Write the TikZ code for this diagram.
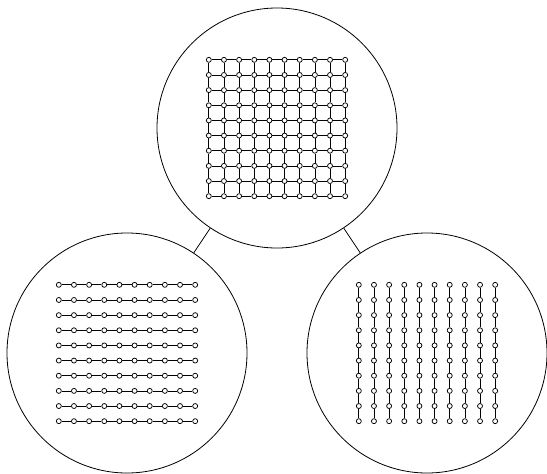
\documentclass[tikz,border=0pt]{standalone}
\tikzset{
	panel/.style={draw, circle, line width=0.8pt, minimum size=240pt, inner sep=0pt},
	vertex/.style={draw, circle, fill=white, line width=0.75pt, minimum size=5pt, inner sep=0pt},
	bond/.style={line width=0.7pt},
}

\begin{document}
\begin{tikzpicture}[x=1pt,y=-1pt]
	% Fixed white canvas with the reference proportions.
	\path[use as bounding box] (0,0) rectangle (547,474);
	\fill[white] (0,0) rectangle (547,474);

	% The three circular panels and their links.
	\node[panel] (full) at (277,128) {};
	\node[panel] (rows) at (127,353) {};
	\node[panel] (cols) at (427,353) {};
	\draw[bond] (full) -- (rows);
	\draw[bond] (full) -- (cols);

	% 10x10 lattice of sites, centred in each panel.
	\foreach \c/\cx/\cy in {full/277/128, rows/127/353, cols/427/353} {
		\foreach \i in {0,...,9} {
			\foreach \j in {0,...,9} {
				\node[vertex] (\c-\i-\j) at ({\cx+(\i-4.5)*15.15},{\cy+(\j-4.5)*15.15}) {};
			}
		}
	}

	% Horizontal bonds: full lattice and row chains.
	\foreach \c in {full,rows} {
		\foreach \i [count=\k from 1] in {0,...,8} {
			\foreach \j in {0,...,9} {
				\draw[bond] (\c-\i-\j) -- (\c-\k-\j);
			}
		}
	}

	% Vertical bonds: full lattice and column chains.
	\foreach \c in {full,cols} {
		\foreach \j [count=\k from 1] in {0,...,8} {
			\foreach \i in {0,...,9} {
				\draw[bond] (\c-\i-\j) -- (\c-\i-\k);
			}
		}
	}
\end{tikzpicture}
\end{document}
